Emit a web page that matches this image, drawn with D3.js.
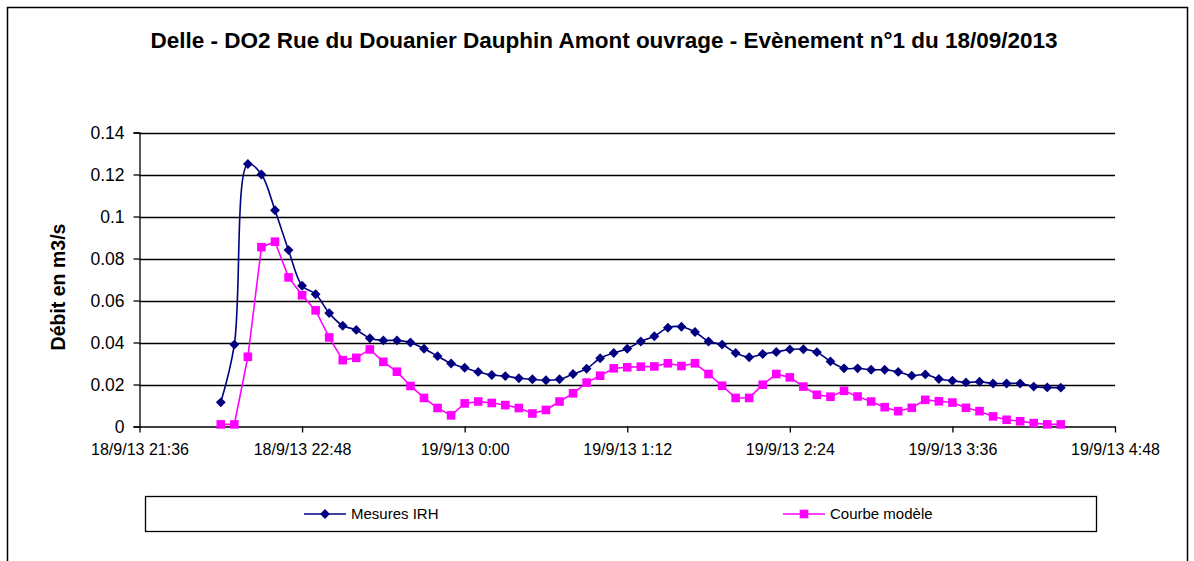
<!DOCTYPE html>
<html>
<head>
<meta charset="utf-8">
<script src="https://cdn.jsdelivr.net/npm/d3@7"></script>
<style>
  body { margin: 0; background: #fff; }
  svg { display: block; font-family: "Liberation Sans", Arial, sans-serif; }
</style>
</head>
<body>
<svg id="chart"></svg>
<script>
// heures des mesures (pas de 6 min), la date passe au 19/09 après minuit
var times = ["22:12", "22:18", "22:24", "22:30", "22:36", "22:42", "22:48", "22:54",
  "23:00", "23:06", "23:12", "23:18", "23:24", "23:30", "23:36", "23:42", "23:48", "23:54",
  "0:00", "0:06", "0:12", "0:18", "0:24", "0:30", "0:36", "0:42", "0:48", "0:54",
  "1:00", "1:06", "1:12", "1:18", "1:24", "1:30", "1:36", "1:42", "1:48", "1:54",
  "2:00", "2:06", "2:12", "2:18", "2:24", "2:30", "2:36", "2:42", "2:48", "2:54",
  "3:00", "3:06", "3:12", "3:18", "3:24", "3:30", "3:36", "3:42", "3:48", "3:54",
  "4:00", "4:06", "4:12", "4:18", "4:24"];

var mesures = [0.0115, 0.039, 0.125, 0.120, 0.103, 0.084, 0.067, 0.063, 0.054, 0.048,
  0.046, 0.042, 0.041, 0.041, 0.040, 0.037, 0.0335, 0.030, 0.028, 0.026,
  0.0245, 0.024, 0.023, 0.0225, 0.022, 0.0225, 0.025, 0.0275, 0.0325, 0.035,
  0.037, 0.0405, 0.043, 0.047, 0.0475, 0.045, 0.0405, 0.039, 0.035, 0.033,
  0.0345, 0.0355, 0.0367, 0.0368, 0.0354, 0.031, 0.0277, 0.0277, 0.027, 0.027,
  0.026, 0.0242, 0.0248, 0.0226, 0.0218, 0.021, 0.0213, 0.0205, 0.0205, 0.0205,
  0.019, 0.0186, 0.0185];

var modele = [0.001, 0.001, 0.0332, 0.0854, 0.088, 0.071, 0.0625, 0.0553, 0.0424, 0.0316,
  0.0327, 0.0367, 0.0308, 0.0261, 0.0193, 0.0136, 0.0088, 0.0053, 0.011, 0.0119,
  0.0112, 0.0102, 0.0088, 0.0062, 0.0079, 0.0119, 0.0158, 0.0209, 0.0242, 0.0277,
  0.0282, 0.0285, 0.0286, 0.0301, 0.0288, 0.0301, 0.025, 0.0194, 0.0136, 0.0136,
  0.0199, 0.025, 0.0234, 0.019, 0.0151, 0.0142, 0.017, 0.0143, 0.0119, 0.0092,
  0.0073, 0.0089, 0.0127, 0.012, 0.0114, 0.0089, 0.0073, 0.0048, 0.0032, 0.0025,
  0.0016, 0.001, 0.001];

var xTicks = ["18/09/2013 21:36", "18/09/2013 22:48", "19/09/2013 0:00", "19/09/2013 1:12",
  "19/09/2013 2:24", "19/09/2013 3:36", "19/09/2013 4:48"];
var yTicks = [0, 0.02, 0.04, 0.06, 0.08, 0.1, 0.12, 0.14];

var titre = "Delle - DO2 Rue du Douanier Dauphin Amont ouvrage - Evènement n°1 du 18/09/2013";
var series = [
  {name: "Mesures IRH", values: mesures, color: "#000080", marker: "diamond", smooth: true},
  {name: "Courbe modèle", values: modele, color: "#ff00ff", marker: "square", smooth: false}
];

var width = 1194, height = 561;
var parseFull = d3.timeParse("%d/%m/%Y %H:%M");

function toDate(t) {
  var h = parseInt(t.split(":")[0]);
  var day = h >= 12 ? "18/09/2013 " : "19/09/2013 ";
  return parseFull(day + t);
}

var svg = d3.select("#chart")
  .attr("width", width)
  .attr("height", height);

// cadre extérieur (coupé en bas comme sur la capture)
svg.append("path")
  .attr("d", "M7.5,561 V7.5 H1187.5 V561")
  .attr("fill", "none")
  .attr("stroke", "#000")
  .attr("stroke-width", 1.5);

svg.append("text")
  .attr("x", 604)
  .attr("y", 48)
  .attr("text-anchor", "middle")
  .attr("font-size", 22.5)
  .attr("font-weight", "bold")
  .text(titre);

var x = d3.scaleTime()
  .domain([parseFull(xTicks[0]), parseFull(xTicks[xTicks.length - 1])])
  .range([139.5, 1115]);

var y = d3.scaleLinear()
  .domain([0, 0.14])
  .range([426.5, 132.5]);

// grille horizontale
svg.append("g")
  .selectAll("line")
  .data(yTicks.slice(1))
  .enter().append("line")
  .attr("x1", x.range()[0])
  .attr("x2", x.range()[1])
  .attr("y1", function (d) { return Math.round(y(d)) + 0.5; })
  .attr("y2", function (d) { return Math.round(y(d)) + 0.5; })
  .attr("stroke", "#000")
  .attr("stroke-width", 1.3);

var yAxis = svg.append("g")
  .attr("transform", "translate(139.5,0)")
  .call(d3.axisLeft(y)
    .tickValues(yTicks)
    .tickSize(6)
    .tickPadding(9)
    .tickFormat(function (d) { return String(+d.toFixed(2)); }));
yAxis.selectAll("text")
  .attr("font-size", 17.5)
  .attr("font-family", "Liberation Sans, Arial, sans-serif")
  .attr("fill", "#000")
  .attr("dy", "0.35em");
yAxis.select(".domain").attr("stroke", "#000").attr("stroke-width", 1.3);
yAxis.selectAll(".tick line").attr("stroke", "#000").attr("stroke-width", 1.3);

var xAxis = svg.append("g")
  .attr("transform", "translate(0,426.5)")
  .call(d3.axisBottom(x)
    .tickValues(xTicks.map(parseFull))
    .tickSize(6)
    .tickSizeOuter(0)
    .tickPadding(11)
    .tickFormat(d3.timeFormat("%-d/%-m/%y %-H:%M")));
xAxis.selectAll("text")
  .attr("font-size", 16)
  .attr("font-family", "Liberation Sans, Arial, sans-serif")
  .attr("fill", "#000");
xAxis.select(".domain").attr("stroke", "#000").attr("stroke-width", 1.3);
xAxis.selectAll(".tick line").attr("stroke", "#000").attr("stroke-width", 1.3);

svg.append("text")
  .attr("transform", "translate(65,287) rotate(-90)")
  .attr("text-anchor", "middle")
  .attr("font-size", 19.5)
  .attr("font-weight", "bold")
  .text("Débit en m3/s");

var diamond = d3.symbol().type(d3.symbolDiamond2).size(62);
var square = d3.symbol().type(d3.symbolSquare).size(74);

function markerPath(s) {
  return s.marker == "diamond" ? diamond() : square();
}

series.forEach(function (s) {
  var pts = s.values.map(function (v, i) {
    return {t: toDate(times[i]), v: v};
  });
  var line = d3.line()
    .x(function (d) { return x(d.t); })
    .y(function (d) { return y(d.v); })
    .curve(s.smooth ? d3.curveCatmullRom.alpha(0.5) : d3.curveLinear);
  var g = svg.append("g");
  g.append("path")
    .datum(pts)
    .attr("d", line)
    .attr("fill", "none")
    .attr("stroke", s.color)
    .attr("stroke-width", 1.6);
  g.selectAll("path.m")
    .data(pts)
    .enter().append("path")
    .attr("class", "m")
    .attr("transform", function (d) {
      return "translate(" + x(d.t) + "," + y(d.v) + ")";
    })
    .attr("d", markerPath(s))
    .attr("fill", s.color);
});

// légende
var legend = svg.append("g");
legend.append("rect")
  .attr("x", 145.5)
  .attr("y", 496.5)
  .attr("width", 951)
  .attr("height", 35)
  .attr("fill", "#fff")
  .attr("stroke", "#000")
  .attr("stroke-width", 1.3);

var legendX = [304, 783];
var item = legend.selectAll("g.item")
  .data(series)
  .enter().append("g")
  .attr("class", "item")
  .attr("transform", function (d, i) {
    return "translate(" + legendX[i] + ",514)";
  });
item.append("line")
  .attr("x1", 0)
  .attr("x2", 42)
  .attr("stroke", function (d) { return d.color; })
  .attr("stroke-width", 1.6);
item.append("path")
  .attr("transform", "translate(21,0)")
  .attr("d", function (d) { return markerPath(d); })
  .attr("fill", function (d) { return d.color; });
item.append("text")
  .attr("x", 47)
  .attr("dy", "0.35em")
  .attr("font-size", 15)
  .text(function (d) { return d.name; });
</script>
</body>
</html>
